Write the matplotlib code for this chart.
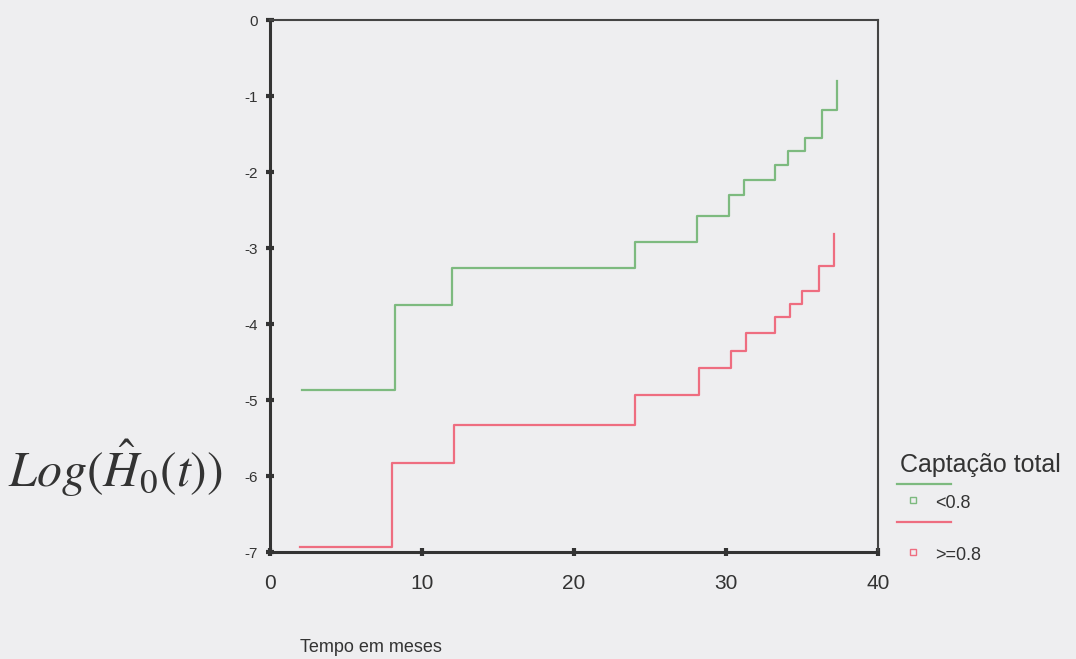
import matplotlib
matplotlib.use("Agg")
import matplotlib.pyplot as plt
from matplotlib.lines import Line2D

# Data (log cumulative baseline hazard, step functions)
time_low = [2.1, 8.2, 12.0, 24.0, 28.1, 30.2, 31.2, 33.2, 34.1, 35.2, 36.3, 37.3]
logH_low = [-4.87, -3.75, -3.26, -2.92, -2.58, -2.30, -2.10, -1.91, -1.73, -1.55, -1.19, -0.80]

time_high = [2.0, 8.0, 12.1, 24.0, 28.2, 30.3, 31.3, 33.2, 34.2, 35.0, 36.1, 37.1]
logH_high = [-6.93, -5.83, -5.33, -4.93, -4.58, -4.35, -4.12, -3.91, -3.74, -3.57, -3.24, -2.81]

xticks = [0, 10, 20, 30, 40]
yticks = [0, -1, -2, -3, -4, -5, -6, -7]

legend_title = "Captação total"
labels = ["<0.8", ">=0.8"]

green = "#7dba7f"
red = "#ee6d80"
bg = "#eeeef0"
ink = "#333333"

plt.rcParams["font.family"] = ["Liberation Sans", "DejaVu Sans"]
plt.rcParams["mathtext.fontset"] = "stix"

W, H = 1076, 659
fig = plt.figure(figsize=(W / 100, H / 100), dpi=100, facecolor=bg)
ax = fig.add_axes([270 / W, 1 - 552 / H, 608 / W, 532 / H])
ax.set_facecolor(bg)

ax.plot(time_low, logH_low, drawstyle="steps-post", color=green, lw=1.6)
ax.plot(time_high, logH_high, drawstyle="steps-post", color=red, lw=1.6)

ax.set_xlim(0, 40)
ax.set_ylim(-7.0, 0)
ax.set_xticks(xticks)
ax.set_yticks(yticks)
ax.set_xticklabels([str(v) for v in xticks], fontsize=15, color=ink)
ax.set_yticklabels([str(v) for v in yticks], fontsize=11, color=ink)
ax.tick_params(axis="both", direction="inout", length=6, width=3, color=ink)
ax.tick_params(axis="x", pad=13)
ax.tick_params(axis="y", pad=6)
for side in ["left", "bottom"]:
    ax.spines[side].set_linewidth(2.2)
    ax.spines[side].set_color(ink)
for side in ["top", "right"]:
    ax.spines[side].set_linewidth(1.5)
    ax.spines[side].set_color("#444444")

def fx(px):
    return px / W

def fy(py):
    return 1 - py / H

fig.text(fx(300), fy(647), "Tempo em meses", fontsize=13, color=ink, ha="left", va="center")
fig.text(fx(8), fy(468), r"$Log(\hat{H}_0(t))$", fontsize=36, color=ink, ha="left", va="center")

# Legend (SPSS style: line sample row, then marker + label row)
fig.text(fx(900), fy(465), legend_title, fontsize=18, color=ink, ha="left", va="center")
for color, label, y_line, y_row in [(green, labels[0], 484, 500), (red, labels[1], 522, 552)]:
    fig.add_artist(Line2D([fx(897), fx(951)], [fy(y_line), fy(y_line)], color=color, lw=1.6,
                          transform=fig.transFigure))
    fig.add_artist(Line2D([fx(913)], [fy(y_row)], color=color, ls="none", marker="s", markersize=5,
                          markerfacecolor="none", markeredgewidth=1, transform=fig.transFigure))
    fig.text(fx(935), fy(y_row + 3), label, fontsize=13, color=ink, ha="left", va="center")

fig.savefig("out.png", dpi=100, facecolor=bg)
